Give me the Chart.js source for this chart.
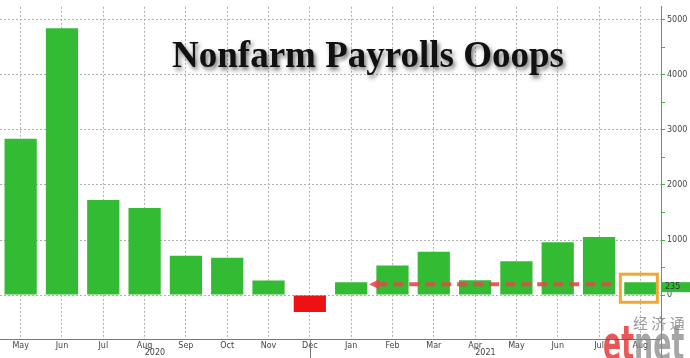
<!DOCTYPE html>
<html><head><meta charset="utf-8">
<script src="https://cdn.jsdelivr.net/npm/chart.js@4/dist/chart.umd.min.js"></script>
<style>html,body{margin:0;padding:0;background:#fff}#wrap{width:690px;height:358px}</style>
</head><body><div id="wrap"><canvas id="c"></canvas></div>
<script>
const categories = ['May','Jun','Jul','Aug','Sep','Oct','Nov','Dec','Jan','Feb','Mar','Apr','May','Jun','Jul','Aug'];
const values = [2840, 4846, 1726, 1583, 716, 680, 264, -306, 233, 536, 785, 269, 614, 962, 1053, 235];
const yearLabels = [{text:'2020', at:3.25}, {text:'2021', at:11.25}];
const yTicks = [0, 1000, 2000, 3000, 4000, 5000];
const titleText = 'Nonfarm Payrolls Ooops';
const lastLabel = '235';

const overlay = {
  id:'overlay',
  afterDraw(chart){
    const ctx = chart.ctx, xs = chart.scales.x, ys = chart.scales.y, a = chart.chartArea;
    ctx.save();
    // year separator & axis extension
    ctx.strokeStyle='#777'; ctx.lineWidth=1;
    const xsep = Math.round(xs.getPixelForValue(7))+0.5;
    ctx.beginPath(); ctx.moveTo(xsep, a.bottom); ctx.lineTo(xsep, 358); ctx.stroke();
    ctx.strokeStyle='#33bb33';
    ctx.beginPath(); ctx.moveTo(a.right+0.5, a.bottom); ctx.lineTo(a.right+0.5, 358); ctx.stroke();
    // year labels
    ctx.fillStyle='#444'; ctx.font='8px "DejaVu Sans"'; ctx.textAlign='center'; ctx.textBaseline='middle';
    yearLabels.forEach(y=>{ ctx.fillText(y.text, xs.getPixelForValue(y.at), 353); });
    // last value marker on axis
    const last = values.length-1;
    const yl = ys.getPixelForValue(values[last]);
    ctx.fillStyle='#33bb33';
    ctx.fillRect(a.right, yl, 29, 10);
    ctx.fillStyle='#333'; ctx.textAlign='left';
    ctx.fillText(lastLabel, a.right+4, yl+5);
    // orange box
    const xc = xs.getPixelForValue(last);
    ctx.strokeStyle='#f0a830'; ctx.lineWidth=3;
    ctx.strokeRect(xc-20, ys.getPixelForValue(380), 37, ys.getPixelForValue(-130)-ys.getPixelForValue(380));
    // red dashed arrow
    const ya = ys.getPixelForValue(values[last])+2;
    const x0 = xs.getPixelForValue(8)+18, x1 = xc-23;
    ctx.strokeStyle='rgba(228,72,72,0.9)'; ctx.lineWidth=4; ctx.setLineDash([10,6]);
    ctx.beginPath(); ctx.moveTo(x0+8, ya); ctx.lineTo(x1, ya); ctx.stroke();
    ctx.setLineDash([]);
    ctx.fillStyle='rgba(228,72,72,0.9)';
    ctx.beginPath(); ctx.moveTo(x0, ya); ctx.lineTo(x0+10, ya-5); ctx.lineTo(x0+10, ya+5); ctx.closePath(); ctx.fill();
    // title
    ctx.font='bold 37px "Liberation Serif"'; ctx.textAlign='center'; ctx.textBaseline='alphabetic';
    ctx.shadowColor='rgba(0,0,0,0.55)'; ctx.shadowOffsetX=2; ctx.shadowOffsetY=3; ctx.shadowBlur=4;
    ctx.fillStyle='#111';
    ctx.fillText(titleText, 368, 67);
    ctx.shadowColor='transparent';
    // watermark
    ctx.globalAlpha=0.75;
    ctx.font='15px "Noto Sans CJK SC"'; ctx.fillStyle='#777'; ctx.textAlign='left';
    ctx.fillText('经 济 通', 633, 329);
    ctx.save();
    ctx.translate(603, 360);
    ctx.scale(0.56, 1);
    ctx.font='bold 48px "DejaVu Sans"';
    ctx.fillStyle='#e02020'; ctx.fillText('et', 0, 0);
    const w = ctx.measureText('et').width;
    ctx.fillStyle='#888'; ctx.fillText('net', w, 0);
    ctx.restore();
    ctx.restore();
  }
};

new Chart(document.getElementById('c'), {
  type:'bar',
  data:{ labels:categories, datasets:[{ data:values,
    backgroundColor: values.map(v=> v<0 ? '#ee1111' : '#33bb33'),
    categoryPercentage:1, barPercentage:0.78 }]},
  options:{
    responsive:true, maintainAspectRatio:false, animation:false,
    layout:{padding:0},
    plugins:{legend:{display:false}, tooltip:{enabled:false}},
    scales:{
      x:{
        grid:{offset:false, drawTicks:false, color:'#b0b0b0'},
        border:{color:'#777', dash:[2,2]},
        ticks:{font:{family:'DejaVu Sans', size:8}, color:'#444', padding:2, maxRotation:0, autoSkip:false},
        afterFit(s){ s.height = 19; }
      },
      y:{
        position:'right', min:-797, max:5235,
        afterBuildTicks(s){ s.ticks = []; for(let v=-500; v<=5000; v+=500) s.ticks.push({value:v}); },
        grid:{ color:(c)=> (c.tick && c.tick.value%1000===0) ? '#b0b0b0' : 'transparent',
               tickColor:(c)=> (c.tick && c.tick.value>=0) ? '#33bb33' : 'transparent',
               tickLength:4 },
        border:{color:'#33bb33', dash:[2,2]},
        ticks:{ font:{family:'DejaVu Sans', size:8}, color:'#444', padding:2,
          callback:(v)=> yTicks.includes(v) ? String(v) : '' },
        afterFit(s){ s.width = 29; }
      }
    }
  },
  plugins:[overlay]
});
</script></body></html>
